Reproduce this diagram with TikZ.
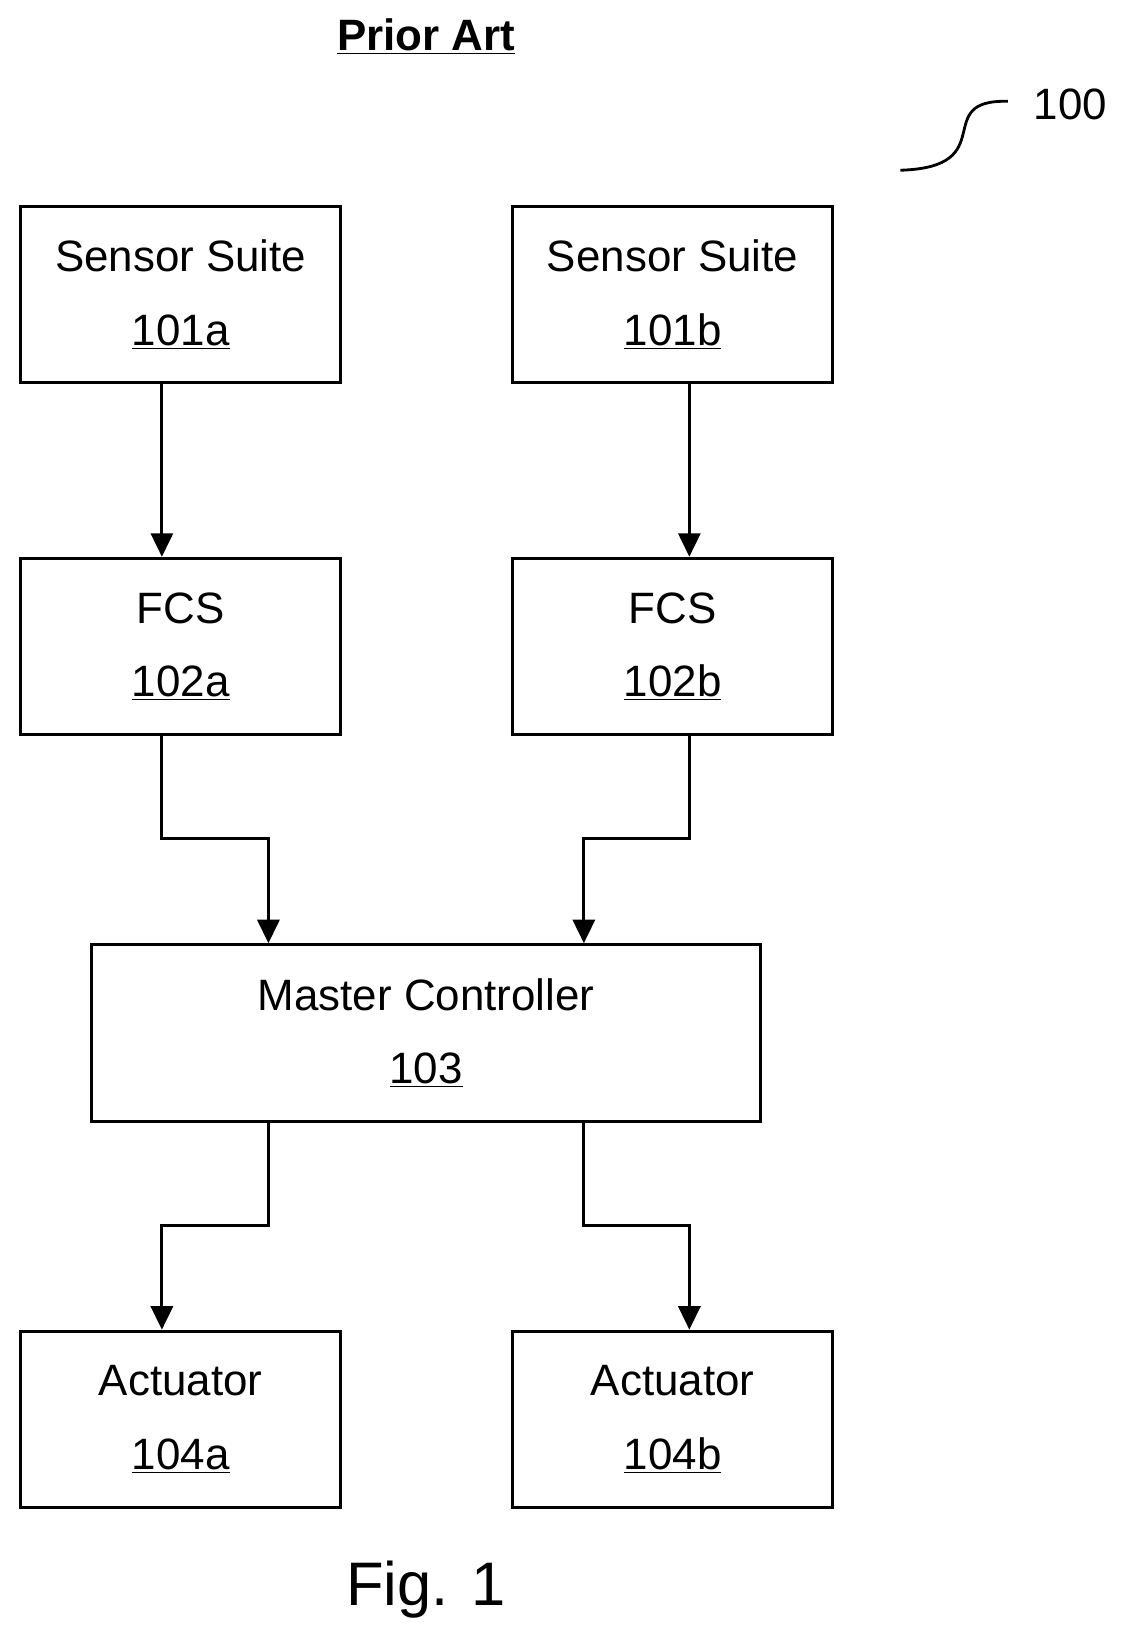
\documentclass[tikz,border=0pt]{standalone}
\usepackage{fontspec}
\setmainfont{Liberation Sans}
\usetikzlibrary{arrows.meta,positioning}
\tikzset{
    block/.style={
        draw,
        line width=1.8pt,
        minimum width=6.4cm,
        minimum height=3.53cm,
        align=center,
        font=\fontsize{25}{42}\selectfont
    },
    link/.style={
        draw,
        line width=1.8pt,
        -{Triangle[length=0.47cm, width=0.44cm]}
    }
}
\begin{document}
\begin{tikzpicture}[x=0.0209cm,y=-0.0209cm]
  \useasboundingbox (0,0) rectangle (1080,1574);
  % title and reference numeral
  \node[font=\fontsize{25}{28}\selectfont\bfseries] (title) at (408,35) {\underline{Prior Art}};
  \node[font=\fontsize{25}{28}\selectfont] (ref) at (1025,100) {100};
  \coordinate (sq) at (862,163);
  \draw[line width=1.6pt] (sq) .. controls (960,160) and (890,95) .. (965,97);

  % sensor suites
  \node[block] (s1) at (173,282) {Sensor Suite\\\underline{101a}};
  \node[block] (s2) at (644,282) {Sensor Suite\\\underline{101b}};
  % flight control systems
  \node[block] (f1) at (173,619) {FCS\\\underline{102a}};
  \node[block] (f2) at (644,619) {FCS\\\underline{102b}};
  % master controller
  \node[block, minimum width=13.38cm] (mc) at (408,989) {Master Controller\\\underline{103}};
  % actuators
  \node[block] (a1) at (173,1359) {Actuator\\\underline{104a}};
  \node[block] (a2) at (644,1359) {Actuator\\\underline{104b}};

  \node[font=\fontsize{35}{40}\selectfont] (fig) at (408,1522) {Fig. 1};

  % connections
  \draw[link] (s1.south -| 155,0) -- (f1.north -| 155,0);
  \draw[link] (s2.south -| 660,0) -- (f2.north -| 660,0);
  \draw[link] (f1.south -| 155,0) |- (257,803) -- (mc.north -| 257,0);
  \draw[link] (f2.south -| 660,0) |- (559,803) -- (mc.north -| 559,0);
  \draw[link] (mc.south -| 257,0) |- (155,1173) -- (a1.north -| 155,0);
  \draw[link] (mc.south -| 559,0) |- (660,1173) -- (a2.north -| 660,0);
\end{tikzpicture}
\end{document}
